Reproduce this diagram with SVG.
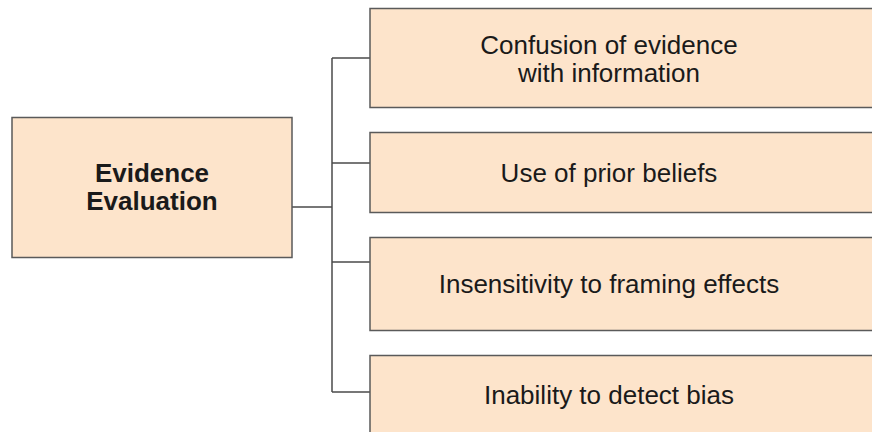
<svg xmlns="http://www.w3.org/2000/svg" width="872" height="432" viewBox="0 0 872 432">
  <style>
    .box { fill: #fde4cb; stroke: #5a5a5a; stroke-width: 1.5; }
    .lbl { font-family: "Liberation Sans", Arial, sans-serif; font-size: 26px; fill: #1a1a1a; text-anchor: middle; }
    .bold { font-weight: bold; }
    .wire { fill: none; stroke: #4a4a4a; stroke-width: 1.5; }
  </style>
  <rect width="872" height="432" fill="#ffffff"/>

  <!-- tree connectors -->
  <g id="connectors">
    <path class="wire" d="M292 207 H332"/>
    <path class="wire" d="M332 58 V392"/>
    <path class="wire" d="M332 58 H370"/>
    <path class="wire" d="M332 163 H370"/>
    <path class="wire" d="M332 262 H370"/>
    <path class="wire" d="M332 392 H370"/>
  </g>

  <g id="root">
    <rect class="box" x="12" y="117.5" width="280" height="140"/>
    <text class="lbl bold" x="152" y="182">Evidence</text>
    <text class="lbl bold" x="152" y="210">Evaluation</text>
  </g>

  <g id="confusion">
    <rect class="box" x="370" y="8.5" width="520" height="99"/>
    <text class="lbl" x="609" y="54">Confusion of evidence</text>
    <text class="lbl" x="609" y="82">with information</text>
  </g>

  <g id="prior-beliefs">
    <rect class="box" x="370" y="132.5" width="520" height="80"/>
    <text class="lbl" x="609" y="182">Use of prior beliefs</text>
  </g>

  <g id="framing">
    <rect class="box" x="370" y="237.5" width="520" height="93"/>
    <text class="lbl" x="609" y="293">Insensitivity to framing effects</text>
  </g>

  <g id="bias">
    <rect class="box" x="370" y="355.5" width="520" height="100"/>
    <text class="lbl" x="609" y="404">Inability to detect bias</text>
  </g>
</svg>
